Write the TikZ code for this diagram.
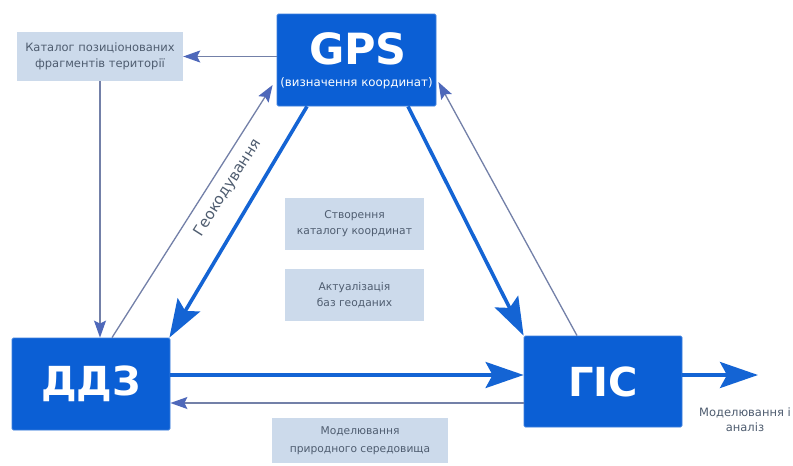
\documentclass[tikz,border=0pt]{standalone}
\usepackage{fontspec}
\setmainfont{DejaVu Sans}
\usetikzlibrary{arrows.meta}
\definecolor{darkbox}{HTML}{0B5FD5}
\definecolor{lightbox}{HTML}{CCDAEB}
\definecolor{ltext}{HTML}{4F5D70}
\definecolor{thinline}{HTML}{7380A8}
\definecolor{thinhead}{HTML}{4E68BA}
\definecolor{thickline}{HTML}{1464D4}
\begin{document}
\begin{tikzpicture}[x=1pt,y=-1pt,
  bigbox/.style={fill=darkbox, draw=darkbox!80!white, line width=0.8pt, text=white, inner sep=0pt, rounded corners=1.5pt},
  infobox/.style={fill=lightbox, text=ltext, inner sep=0pt, align=center, font=\fontsize{10.7}{16}\selectfont},
  thinarrow/.style={draw=thinline, line width=1.3pt, -{Stealth[length=17pt,width=12pt,inset=3pt,color=thinhead]}},
  thickarrow/.style={draw=thickline, line width=3.6pt, -{Stealth[length=38pt,width=26pt,inset=7pt,color=thickline]}},
  lbl/.style={text=ltext, align=center, font=\fontsize{11.5}{15}\selectfont}]
\useasboundingbox (0,0) rectangle (793,466);
\fill[white] (0,0) rectangle (793,466);

% main boxes
\node[bigbox, minimum width=159pt, minimum height=92pt] (gps) at (356.5,60) {};
\node[text=white, font=\fontsize{43}{43}\selectfont\bfseries] (gpst) at (358,49) {GPS};
\node[text=white, font=\fontsize{11.8}{13}\selectfont] (gpss) at (356.5,83) {(визначення координат)};
\node[bigbox, minimum width=158pt, minimum height=92pt, font=\fontsize{40}{40}\selectfont\bfseries] (dzz) at (91,384) {ДДЗ};
\node[bigbox, minimum width=158pt, minimum height=91pt, font=\fontsize{40}{40}\selectfont\bfseries] (gis) at (603,381.5) {ГІС};

% info boxes
\node[infobox, minimum width=166pt, minimum height=49pt, font=\fontsize{11.5}{16}\selectfont] (cat) at (100,56.5) {Каталог позиціонованих\\фрагментів території};
\node[infobox, minimum width=139pt, minimum height=52pt] (cre) at (354.5,224) {Створення\\каталогу координат};
\node[infobox, minimum width=139pt, minimum height=52pt] (act) at (354.5,295) {Актуалізація\\баз геоданих};
\node[infobox, minimum width=176pt, minimum height=45pt, font=\fontsize{10.7}{18}\selectfont] (mod) at (360,440.5) {Моделювання\\природного середовища};

\node[lbl] (out) at (745,420) {Моделювання і\\аналіз};
\coordinate (outend) at (758,375);

% connectors
\draw[thinarrow] (gps.west |- cat.east) -- (cat.east);
\draw[thinarrow] (cat.south) -- (cat.south |- dzz.north);
\draw[thinarrow] ([xshift=21pt]dzz.north) -- ([xshift=-4pt,yshift=-25pt]gps.west);
\draw[thickarrow] ([xshift=-49.5pt]gps.south) -- ([xshift=-1pt]dzz.north east);
\draw[thickarrow] ([xshift=51.5pt]gps.south) -- (gis.north west);
\draw[thinarrow] ([xshift=-26pt]gis.north) -- ([xshift=2pt,yshift=-22pt]gps.east);
\draw[thickarrow] ([yshift=9pt]dzz.east) -- ([yshift=9pt]dzz.east -| gis.west);
\draw[thinarrow] ([yshift=-19pt]dzz.east -| gis.west) -- ([yshift=-19pt]dzz.east);
\draw[thickarrow] (gis.east |- outend) -- (outend);

\node[text=ltext, rotate=57.5, inner sep=0pt, font=\fontsize{15}{15}\selectfont] (geo) at (228,188) {Геокодування};
\end{tikzpicture}
\end{document}
